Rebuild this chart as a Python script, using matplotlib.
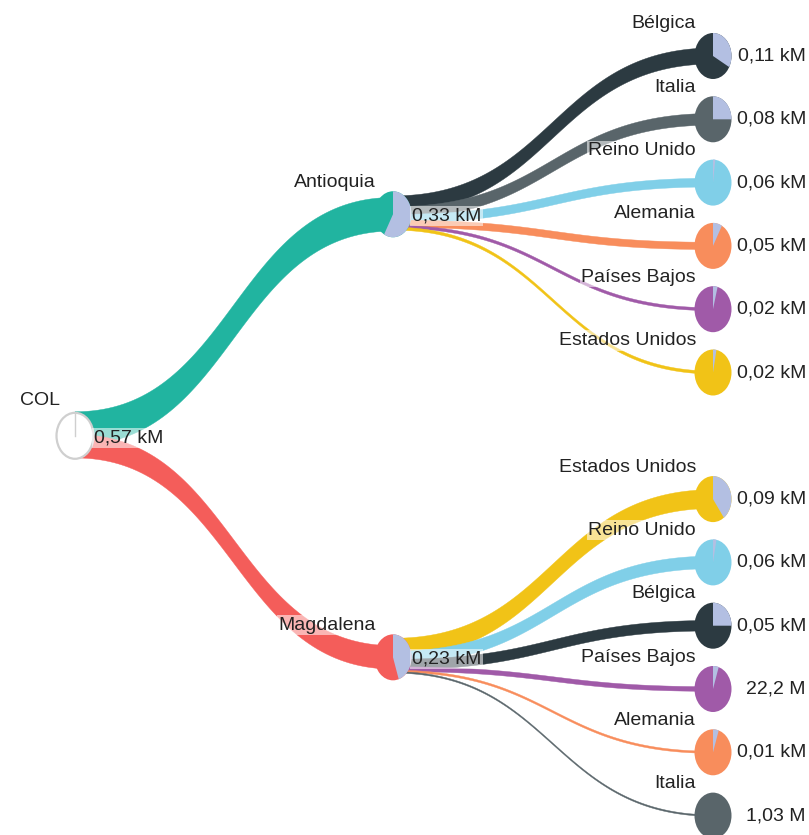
import numpy as np
import matplotlib
matplotlib.use("Agg")
import matplotlib.pyplot as plt
from matplotlib.patches import Polygon, Ellipse

# ---------------- data ----------------
root_name = "COL"
root_value = 0.57
root_label = "0,57 kM"

regions = ["Antioquia", "Magdalena"]
region_values = [0.33, 0.23]
region_labels = ["0,33 kM", "0,23 kM"]
region_share = [0.58, 0.45]          # light (lavender) part of each pie

ant_countries = ["Bélgica", "Italia", "Reino Unido", "Alemania", "Países Bajos", "Estados Unidos"]
ant_values = [0.11, 0.08, 0.06, 0.05, 0.02, 0.02]
ant_labels = ["0,11 kM", "0,08 kM", "0,06 kM", "0,05 kM", "0,02 kM", "0,02 kM"]
ant_share = [0.33, 0.25, 0.02, 0.08, 0.04, 0.03]

mag_countries = ["Estados Unidos", "Reino Unido", "Bélgica", "Países Bajos", "Alemania", "Italia"]
mag_values = [0.09, 0.06, 0.05, 0.0222, 0.01, 0.00103]
mag_labels = ["0,09 kM", "0,06 kM", "0,05 kM", "22,2 M", "0,01 kM", "1,03 M"]
mag_share = [0.40, 0.03, 0.25, 0.05, 0.05, 0.0]

region_colors = {"Antioquia": "#21b4a0", "Magdalena": "#f45d5a"}
country_colors = {
    "Bélgica": "#2c3a41",
    "Italia": "#59656a",
    "Reino Unido": "#80cfe8",
    "Alemania": "#f88d5c",
    "Países Bajos": "#a05aa8",
    "Estados Unidos": "#f1c317",
}
light_color = "#b3bfe2"
text_color = "#222222"

# ---------------- layout ----------------
W, H = 809, 835
fig = plt.figure(figsize=(W / 100, H / 100), dpi=100)
ax = fig.add_axes([0, 0, 1, 1])
ax.set_xlim(0, W)
ax.set_ylim(H, 0)
ax.axis("off")

x_depth = [75, 393, 713]
slot0, slot_step = 56, 63.3
RX, RY = 18.5, 23.0
WSCALE = [58.0, 48.0]
SPREAD = 0.62
FONT = "Liberation Sans"
FS = 14

children = [
    (ant_countries, ant_values, ant_labels, ant_share),
    (mag_countries, mag_values, mag_labels, mag_share),
]

leaf_pos = []
region_y = []
slot = 0
for gi, (names, vals, labs, shares) in enumerate(children):
    ys = []
    for _ in names:
        ys.append(slot0 + slot * slot_step)
        slot += 1
    slot += 1
    leaf_pos.append(ys)
    region_y.append(np.mean(ys))
root_y = np.mean(region_y)


def bezier(p0, p1, t):
    x0, y0 = p0
    x1, y1 = p1
    xm = (x0 + x1) / 2
    bx = (1 - t) ** 3 * x0 + 3 * (1 - t) ** 2 * t * xm + 3 * (1 - t) * t ** 2 * xm + t ** 3 * x1
    by = (1 - t) ** 3 * y0 + 3 * (1 - t) ** 2 * t * y0 + 3 * (1 - t) * t ** 2 * y1 + t ** 3 * y1
    return bx, by


def draw_link(x0, ys0, x1, y1, w, color, z=1):
    t = np.linspace(0, 1, 80)
    tx, ty = bezier((x0, ys0 - w / 2), (x1, y1 - w / 2), t)
    bx, by = bezier((x0, ys0 + w / 2), (x1, y1 + w / 2), t)
    pts = np.column_stack([np.concatenate([tx, bx[::-1]]), np.concatenate([ty, by[::-1]])])
    ax.add_patch(Polygon(pts, closed=True, facecolor=color, edgecolor=color, lw=0.3, zorder=z))


def draw_links(px, py, parent_val, cx, cys, vals, colors, scale, z):
    widths = [max(scale * v / parent_val, 1.5) for v in vals]
    top = py - sum(widths) / 2
    for w, cy, col in zip(widths, cys, colors):
        src = py + (top + w / 2 - py) * SPREAD
        draw_link(px, src, cx, cy, w, col, z)
        top += w


def draw_pie(cx, cy, share, color, z=5):
    ax.add_patch(Ellipse((cx, cy), 2 * RX, 2 * RY, facecolor=color, edgecolor="none", zorder=z))
    if share > 0:
        a = np.linspace(0, 2 * np.pi * share, 60)
        xs = np.concatenate([[cx], cx + RX * np.sin(a)])
        ys = np.concatenate([[cy], cy - RY * np.cos(a)])
        ax.add_patch(Polygon(np.column_stack([xs, ys]), closed=True, facecolor=light_color,
                             edgecolor="none", zorder=z + 0.1))


box = dict(boxstyle="square,pad=0.08", facecolor="white", edgecolor="none", alpha=0.55)

# links root -> regions
draw_links(x_depth[0], root_y, root_value, x_depth[1], region_y, region_values,
           [region_colors[r] for r in regions], WSCALE[0], 1)
# links regions -> countries
for gi, (names, vals, labs, shares) in enumerate(children):
    draw_links(x_depth[1], region_y[gi], region_values[gi], x_depth[2], leaf_pos[gi], vals,
               [country_colors[n] for n in names], WSCALE[1], 2)

# root pie
ax.add_patch(Ellipse((x_depth[0], root_y), 2 * RX, 2 * RY, facecolor="white",
                     edgecolor="#cfcfcf", lw=1.6, zorder=5))
ax.plot([x_depth[0], x_depth[0]], [root_y, root_y - RY], color="#cfcfcf", lw=1, zorder=6)
ax.text(x_depth[0] - 15, root_y - 35, root_name, ha="right", va="center", fontsize=FS,
        family=FONT, color=text_color, zorder=8)
ax.text(x_depth[0] + 19, root_y + 2, root_label, ha="left", va="center", fontsize=FS,
        family=FONT, color=text_color, bbox=box, zorder=8)

# region pies
for gi, r in enumerate(regions):
    cx, cy = x_depth[1], region_y[gi]
    draw_pie(cx, cy, region_share[gi], region_colors[r])
    ax.text(cx - 17, cy - 32, r, ha="right", va="center", fontsize=FS, family=FONT,
            color=text_color, bbox=box, zorder=8)
    ax.text(cx + 19, cy + 2, region_labels[gi], ha="left", va="center", fontsize=FS,
            family=FONT, color=text_color, bbox=box, zorder=8)

# leaf pies
for gi, (names, vals, labs, shares) in enumerate(children):
    for n, lab, sh, cy in zip(names, labs, shares, leaf_pos[gi]):
        cx = x_depth[2]
        draw_pie(cx, cy, sh, country_colors[n])
        ax.text(cx - 17, cy - 32, n, ha="right", va="center", fontsize=FS, family=FONT,
                color=text_color, bbox=box, zorder=8)
        ax.text(806, cy, lab, ha="right", va="center", fontsize=FS, family=FONT,
                color=text_color, bbox=box, zorder=8)

fig.savefig("out.png", dpi=100, facecolor="white")
